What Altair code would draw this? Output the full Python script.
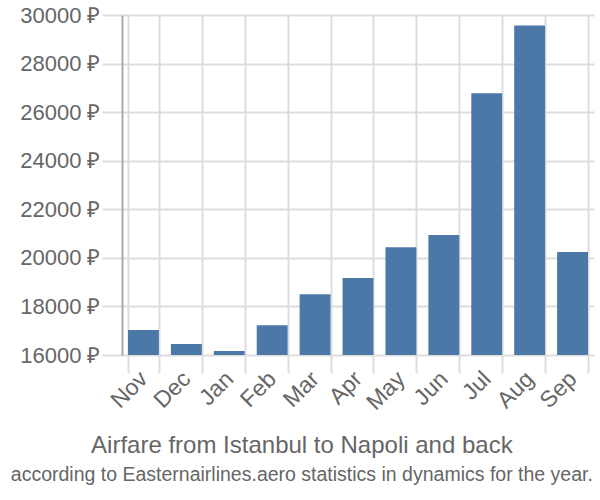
import altair as alt
import pandas as pd

months = ["Nov", "Dec", "Jan", "Feb", "Mar", "Apr", "May", "Jun", "Jul", "Aug", "Sep"]
prices = [17030, 16450, 16160, 17230, 18500, 19170, 20440, 20940, 26780, 29570, 20240]
y_ticks = [16000, 18000, 20000, 22000, 24000, 26000, 28000, 30000]

df = pd.DataFrame({"month": months, "price": prices})

FONT = "Liberation Sans"
TXT = "#666666"

chart = alt.Chart(df).mark_bar(color="#4c78a8", clip=True).encode(
    x=alt.X("month:N", sort=months,
            scale=alt.Scale(paddingInner=0.28, paddingOuter=0.14),
            axis=alt.Axis(title=None, labelAngle=-45, labelAlign="right", labelBaseline="middle",
                          labelFontSize=23, labelFont=FONT, labelColor=TXT,
                          tickBand="extent", tickSize=18, tickColor="#dddddd", tickWidth=2,
                          grid=True, gridColor="#dddddd", gridWidth=2,
                          domain=False, labelPadding=2)),
    y=alt.Y("price:Q",
            scale=alt.Scale(domain=[16000, 30000], zero=False, nice=False),
            axis=alt.Axis(title=None, values=y_ticks, labelExpr="datum.value + ' ₽'",
                          labelFontSize=22, labelFont=FONT, labelColor=TXT,
                          tickSize=20, tickColor="#dddddd", tickWidth=2,
                          grid=True, gridColor="#dddddd", gridWidth=2,
                          domain=True, domainColor="#aaaaaa", domainWidth=2, labelPadding=2)),
).properties(
    width=472,
    height=340,
    title=alt.TitleParams(
        text="Airfare from Istanbul to Napoli and back",
        subtitle="according to Easternairlines.aero statistics in dynamics for the year.",
        orient="bottom", anchor="middle", frame="bounds", dx=-5,
        font=FONT, fontSize=24, fontWeight="normal", color=TXT,
        subtitleFont=FONT, subtitleFontSize=19.5, subtitleColor=TXT,
        subtitlePadding=8, offset=20,
    ),
    autosize=alt.AutoSizeParams(type="none"),
    padding={"left": 122, "top": 15, "right": 6, "bottom": 145},
).configure_view(stroke=None)

chart.save("out.html", embed_options={"renderer": "svg", "actions": False})
